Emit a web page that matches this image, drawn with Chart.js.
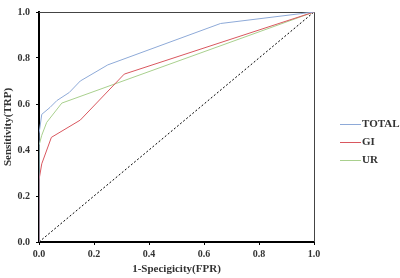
<!DOCTYPE html>
<html lang="en">
<head>
    <meta charset="UTF-8">
    <title>ROC Curves</title>
    <script src="https://cdn.jsdelivr.net/npm/chart.js"></script>
    <style>
        body { margin: 0; background: #fff; }
        .chart-container { position: relative; width: 400px; height: 278px; }
    </style>
</head>
<body>
    <div class="chart-container">
        <canvas id="rocChart"></canvas>
    </div>

    <script>
        // values (FPR on x, TPR on y)
        const totalFpr = [0, 0, 0.01, 0.04, 0.065, 0.11, 0.15, 0.25, 0.66, 1];
        const totalTpr = [0, 0.47, 0.555, 0.585, 0.615, 0.65, 0.70, 0.77, 0.95, 1];
        const giFpr = [0, 0, 0.01, 0.045, 0.15, 0.31, 1];
        const giTpr = [0, 0.27, 0.34, 0.455, 0.53, 0.73, 1];
        const urFpr = [0, 0, 0.01, 0.028, 0.083, 1];
        const urTpr = [0, 0.42, 0.464, 0.52, 0.604, 1];
        const diagFpr = [0, 1];
        const diagTpr = [0, 1];
        const seriesNames = ['TOTAL', 'GI', 'UR'];
        const seriesColors = ['#8eaad8', '#d9575f', '#a9d08e'];

        const serif = "'Liberation Serif', 'Times New Roman', serif";

        function toPoints(xs, ys) {
            return xs.map((x, i) => ({ x: x, y: ys[i] }));
        }

        // thin frame on top and right side
        const framePlugin = {
            id: 'frame',
            beforeDatasetsDraw(chart) {
                const { ctx, chartArea: a } = chart;
                ctx.save();
                ctx.strokeStyle = '#444';
                ctx.lineWidth = 1;
                ctx.beginPath();
                ctx.moveTo(a.left, a.top + 0.5);
                ctx.lineTo(a.right + 0.5, a.top + 0.5);
                ctx.lineTo(a.right + 0.5, a.bottom);
                ctx.stroke();
                ctx.restore();
            }
        };

        // legend to the right of the plot
        const sideLegend = {
            id: 'sideLegend',
            afterDraw(chart) {
                const ctx = chart.ctx;
                ctx.save();
                ctx.font = 'bold 11px ' + serif;
                ctx.textBaseline = 'middle';
                seriesNames.forEach((name, i) => {
                    const y = 124 + i * 18;
                    ctx.strokeStyle = seriesColors[i];
                    ctx.lineWidth = 1;
                    ctx.beginPath();
                    ctx.moveTo(340, y + 0.5);
                    ctx.lineTo(361, y + 0.5);
                    ctx.stroke();
                    ctx.fillStyle = '#333';
                    ctx.fillText(name, 362, y);
                });
                ctx.restore();
            }
        };

        const datasets = [
            { label: seriesNames[0], data: toPoints(totalFpr, totalTpr), borderColor: seriesColors[0] },
            { label: seriesNames[1], data: toPoints(giFpr, giTpr), borderColor: seriesColors[1] },
            { label: seriesNames[2], data: toPoints(urFpr, urTpr), borderColor: seriesColors[2] },
            { label: 'ref', data: toPoints(diagFpr, diagTpr), borderColor: '#000', borderDash: [2, 2] }
        ].map(d => Object.assign({
            showLine: true,
            borderWidth: 1,
            pointRadius: 0,
            fill: false,
            tension: 0
        }, d));

        const axisCommon = {
            type: 'linear',
            min: 0,
            max: 1,
            border: { color: '#000', width: 2 },
            grid: { drawOnChartArea: false, drawTicks: true, tickLength: 3, color: '#000' },
            ticks: {
                stepSize: 0.2,
                color: '#333',
                font: { family: serif, size: 10, weight: 'bold' },
                callback: v => v.toFixed(1)
            }
        };

        new Chart(document.getElementById('rocChart'), {
            type: 'scatter',
            data: { datasets: datasets },
            options: {
                responsive: true,
                maintainAspectRatio: false,
                animation: false,
                layout: { padding: { top: 7, right: 86, left: 0, bottom: 0 } },
                plugins: { legend: { display: false }, tooltip: { enabled: false } },
                scales: {
                    x: Object.assign({}, axisCommon, {
                        ticks: Object.assign({}, axisCommon.ticks, { padding: 3, maxRotation: 0 }),
                        title: {
                            display: true,
                            text: '1-Specigicity(FPR)',
                            color: '#333',
                            font: { family: serif, size: 11, weight: 'bold' },
                            padding: { top: 0, bottom: 2 }
                        },
                        afterFit(scale) { scale.height = 36; }
                    }),
                    y: Object.assign({}, axisCommon, {
                        ticks: Object.assign({}, axisCommon.ticks, { padding: 6 }),
                        title: {
                            display: true,
                            text: 'Sensitivity(TRP)',
                            color: '#333',
                            font: { family: serif, size: 11, weight: 'bold' },
                            padding: { top: 2, bottom: 0 }
                        },
                        afterFit(scale) { scale.width = 39; }
                    })
                }
            },
            plugins: [framePlugin, sideLegend]
        });
    </script>
</body>
</html>
